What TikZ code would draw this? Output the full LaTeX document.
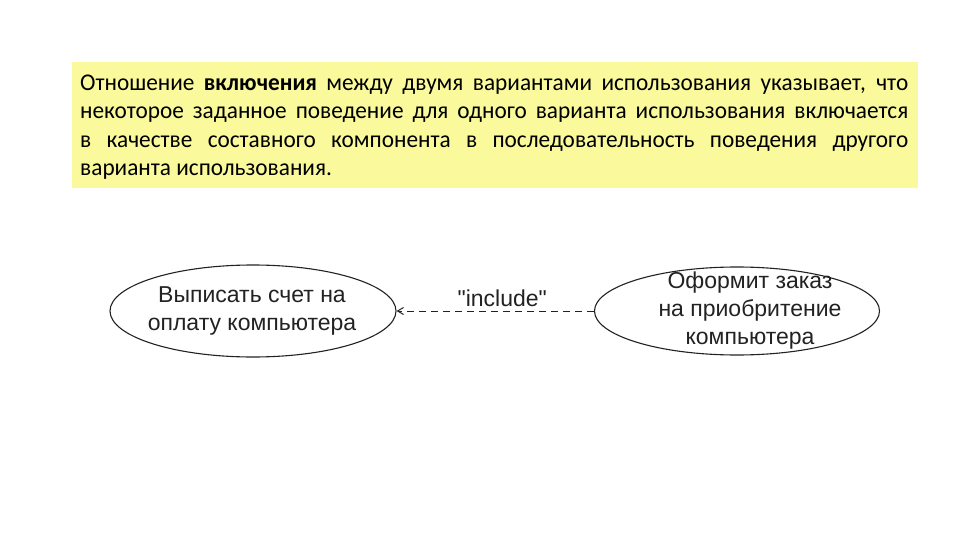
\documentclass[tikz,border=0pt]{standalone}
\usepackage{fontspec}
\setmainfont{Carlito}[FakeStretch=0.97]
\newfontfamily\arialfont{Liberation Sans}
\usetikzlibrary{shapes.geometric,arrows.meta}
\definecolor{notebg}{HTML}{FAFA9C}
\definecolor{inkgray}{HTML}{222222}
\tikzset{
  usecase/.style={draw=inkgray, line width=1.1pt, ellipse, inner sep=0pt, fill=white},
  uctext/.style={font=\arialfont\fontsize{23}{28}\selectfont, text=inkgray, align=center},
  inclarrow/.style={draw=inkgray, line width=1pt, dash pattern=on 7pt off 5pt, -{Straight Barb[length=6pt,width=7pt]}},
}
\begin{document}
\begin{tikzpicture}[x=1pt,y=-1pt]
\useasboundingbox (0,0) rectangle (960,540);
\fill[white] (0,0) rectangle (960,540);
\node[fill=notebg, minimum width=846pt, minimum height=126pt, anchor=north west, inner sep=0pt] (note) at (72,62) {};
\node[anchor=north west, inner sep=0pt, text width=828pt, font=\fontsize{24}{28.5}\selectfont, align=justify] (notetext) at (80,70)
 {\spaceskip=0.22em plus 1em minus 0.1em\relax
 \rule{0pt}{20pt}Отношение \textbf{включения} между двумя вариантами использования указывает, что\linebreak некоторое заданное поведение для одного варианта использования включается\linebreak в качестве составного компонента в последовательность поведения другого\linebreak варианта использования.};
\node[usecase, minimum width=286pt, minimum height=92pt] (uc1) at (253,311) {};
\node[uctext] (uc1t) at (252,311) {Выписать счет на\\оплату компьютера};
\node[usecase, minimum width=285pt, minimum height=88pt] (uc2) at (737,311) {};
\node[uctext] (uc2t) at (750,311) {Оформит заказ\\на приобритение\\компьютера};
\draw[inclarrow] (uc2.west) -- node[above=0pt, xshift=7pt, font=\arialfont\fontsize{23}{24}\selectfont, text=inkgray] (incl) {"include"} (uc1.east);
\end{tikzpicture}
\end{document}
